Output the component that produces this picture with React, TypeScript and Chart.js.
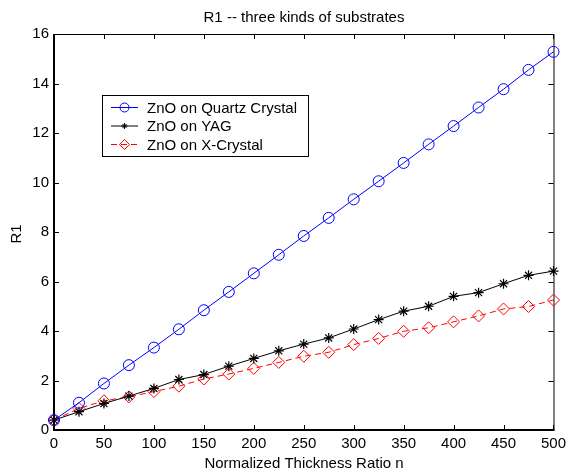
import React, { useEffect, useRef } from "react";
import { Chart, registerables } from "chart.js";

Chart.register(...registerables);

const thickness = [0, 25, 50, 75, 100, 125, 150, 175, 200, 225, 250, 275, 300, 325, 350, 375, 400, 425, 450, 475, 500];
const quartz = [0.4, 1.1, 1.88, 2.62, 3.33, 4.07, 4.84, 5.58, 6.33, 7.08, 7.84, 8.57, 9.32, 10.05, 10.79, 11.54, 12.28, 13.03, 13.77, 14.55, 15.28];
const yag = [0.4, 0.74, 1.07, 1.37, 1.68, 2.04, 2.24, 2.58, 2.89, 3.2, 3.47, 3.72, 4.08, 4.46, 4.8, 5.0, 5.4, 5.55, 5.91, 6.25, 6.42];
const xcrystal = [0.4, 0.87, 1.18, 1.34, 1.55, 1.77, 2.06, 2.26, 2.49, 2.73, 2.98, 3.14, 3.45, 3.7, 3.99, 4.13, 4.37, 4.61, 4.89, 4.99, 5.25];
const seriesNames = ["ZnO on Quartz Crystal", "ZnO on YAG", "ZnO on X-Crystal"];
const xTicks = [0, 50, 100, 150, 200, 250, 300, 350, 400, 450, 500];
const yTicks = [0, 2, 4, 6, 8, 10, 12, 14, 16];
const titleText = "R1 -- three kinds of substrates";
const xTitle = "Normalized Thickness Ratio n";
const yTitle = "R1";

const FONT = "Liberation Sans, Arial, sans-serif";

function drawMarker(ctx: CanvasRenderingContext2D, style: string, x: number, y: number, r: number, color: string) {
  ctx.save();
  ctx.strokeStyle = color;
  ctx.lineWidth = 1;
  ctx.setLineDash([]);
  ctx.beginPath();
  if (style === "circle") {
    ctx.arc(x, y, r, 0, Math.PI * 2);
  } else if (style === "rectRot") {
    ctx.moveTo(x - r, y);
    ctx.lineTo(x, y - r);
    ctx.lineTo(x + r, y);
    ctx.lineTo(x, y + r);
    ctx.closePath();
  } else {
    for (let k = 0; k < 4; k++) {
      const a = (k * Math.PI) / 4;
      ctx.moveTo(x - Math.cos(a) * r, y - Math.sin(a) * r);
      ctx.lineTo(x + Math.cos(a) * r, y + Math.sin(a) * r);
    }
  }
  ctx.stroke();
  ctx.restore();
}

const framePlugin = {
  id: "frame",
  beforeDatasetsDraw(chart: any) {
    const { ctx, chartArea } = chart;
    const { left, right, top, bottom } = chartArea;
    const xs = chart.scales.x;
    const ys = chart.scales.y;
    ctx.save();
    ctx.strokeStyle = "#000";
    ctx.lineWidth = 1;
    ctx.beginPath();
    ctx.moveTo(left, top + 0.5);
    ctx.lineTo(right, top + 0.5);
    ctx.moveTo(right + 0.5, top);
    ctx.lineTo(right + 0.5, bottom);
    ctx.stroke();
    ctx.lineWidth = 2;
    ctx.beginPath();
    ctx.moveTo(left, bottom);
    ctx.lineTo(right + 1, bottom);
    ctx.moveTo(left, top);
    ctx.lineTo(left, bottom + 1);
    ctx.stroke();
    ctx.lineWidth = 1;
    ctx.beginPath();
    const tl = 5;
    xTicks.forEach((v) => {
      const px = Math.round(xs.getPixelForValue(v)) + 0.5;
      ctx.moveTo(px, bottom);
      ctx.lineTo(px, bottom - tl);
      ctx.moveTo(px, top);
      ctx.lineTo(px, top + tl);
    });
    yTicks.forEach((v) => {
      const py = Math.round(ys.getPixelForValue(v)) + 0.5;
      ctx.moveTo(left, py);
      ctx.lineTo(left + tl, py);
      ctx.moveTo(right, py);
      ctx.lineTo(right - tl, py);
    });
    ctx.stroke();
    ctx.restore();
  },
  afterDraw(chart: any) {
    const { ctx } = chart;
    ctx.save();
    ctx.fillStyle = "#000";
    ctx.font = `15px ${FONT}`;
    ctx.textAlign = "center";
    ctx.textBaseline = "alphabetic";
    ctx.fillText(titleText, 304, 22);
    ctx.fillText(xTitle, 304, 468);
    ctx.save();
    ctx.translate(20.5, 234);
    ctx.rotate(-Math.PI / 2);
    ctx.fillText(yTitle, 0, 0);
    ctx.restore();

    // legend
    ctx.fillStyle = "#fff";
    ctx.fillRect(102, 95, 207, 61);
    ctx.strokeStyle = "#000";
    ctx.lineWidth = 1;
    ctx.strokeRect(102.5, 95.5, 206, 61);
    const rows = [107.5, 126, 144.5];
    const colors = ["#0000ff", "#000000", "#ff0000"];
    const styles = ["circle", "star", "rectRot"];
    const radii = [4.5, 3, 5];
    rows.forEach((y, i) => {
      ctx.strokeStyle = colors[i];
      ctx.setLineDash(i === 2 ? [6, 4] : []);
      ctx.beginPath();
      ctx.moveTo(111, y);
      ctx.lineTo(138, y);
      ctx.stroke();
      ctx.setLineDash([]);
      drawMarker(ctx, styles[i], 124.5, y, radii[i], colors[i]);
      ctx.fillStyle = "#000";
      ctx.textAlign = "left";
      ctx.textBaseline = "middle";
      ctx.font = `15px ${FONT}`;
      ctx.fillText(seriesNames[i], 147, y + 1);
    });
    ctx.restore();
  },
};

export default function App() {
  const ref = useRef<HTMLCanvasElement | null>(null);
  useEffect(() => {
    if (!ref.current) return;
    const mk = (vals: number[]) => vals.map((v, i) => ({ x: thickness[i], y: v }));
    const chart = new Chart(ref.current, {
      type: "line",
      data: {
        datasets: [
          {
            label: seriesNames[0],
            data: mk(quartz),
            borderColor: "#0000ff",
            borderWidth: 1,
            pointStyle: "circle",
            pointRadius: 5.5,
            pointBorderColor: "#0000ff",
            pointBackgroundColor: "rgba(0,0,0,0)",
            pointBorderWidth: 1,
            tension: 0,
            clip: false as any,
          },
          {
            label: seriesNames[1],
            data: mk(yag),
            borderColor: "#000000",
            borderWidth: 1,
            pointStyle: "star",
            pointRadius: 5,
            pointBorderColor: "#000000",
            pointBackgroundColor: "rgba(0,0,0,0)",
            pointBorderWidth: 1.2,
            tension: 0,
            clip: false as any,
          },
          {
            label: seriesNames[2],
            data: mk(xcrystal),
            borderColor: "#ff0000",
            borderWidth: 1,
            borderDash: [6, 4],
            pointStyle: "rectRot",
            pointRadius: 6,
            pointBorderColor: "#ff0000",
            pointBackgroundColor: "rgba(0,0,0,0)",
            pointBorderWidth: 1,
            tension: 0,
            clip: false as any,
          },
        ],
      },
      options: {
        animation: false,
        responsive: true,
        maintainAspectRatio: false,
        layout: { padding: { top: 34, right: 13, left: 0, bottom: 0 } },
        plugins: {
          legend: { display: false },
          title: { display: false },
          tooltip: { enabled: false },
        },
        scales: {
          x: {
            type: "linear",
            min: 0,
            max: 500,
            afterBuildTicks: (s: any) => {
              s.ticks = xTicks.map((v) => ({ value: v }));
            },
            ticks: { color: "#000", font: { family: FONT, size: 15 }, padding: 5, maxRotation: 0, autoSkip: false },
            grid: { display: false, drawTicks: false },
            border: { display: false },
            afterFit: (s: any) => {
              s.height = 44;
            },
          },
          y: {
            type: "linear",
            min: 0,
            max: 16,
            afterBuildTicks: (s: any) => {
              s.ticks = yTicks.map((v) => ({ value: v }));
            },
            ticks: { color: "#000", font: { family: FONT, size: 15 }, padding: 5, autoSkip: false },
            grid: { display: false, drawTicks: false },
            border: { display: false },
            afterFit: (s: any) => {
              s.width = 54;
            },
          },
        },
      },
      plugins: [framePlugin],
    });
    return () => chart.destroy();
  }, []);
  return (
    <div style={{ position: "absolute", left: 0, top: 0, width: 571, height: 474, background: "#fff" }}>
      <canvas ref={ref} />
    </div>
  );
}
